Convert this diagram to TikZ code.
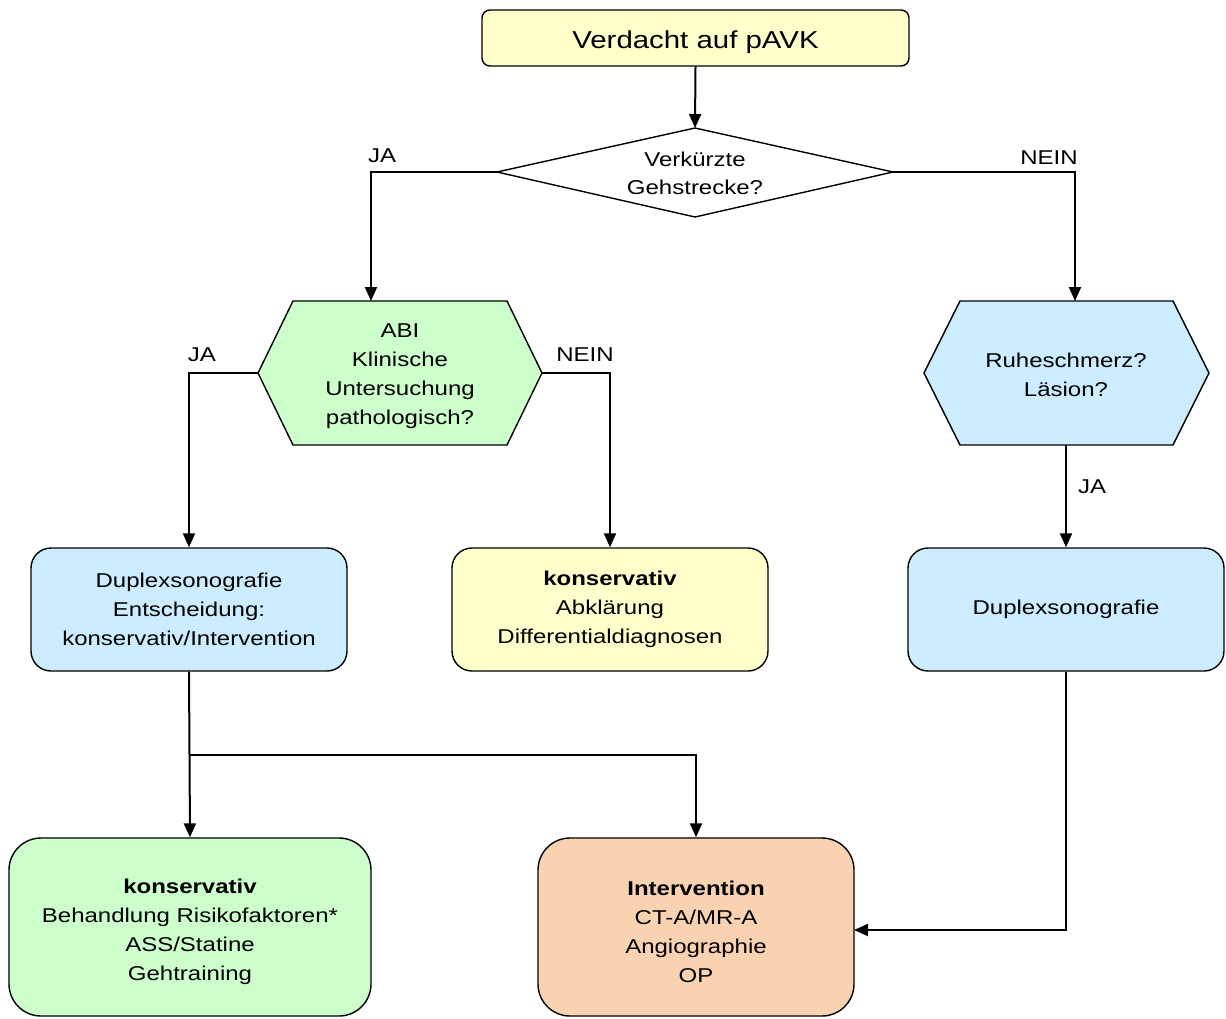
\documentclass[tikz,border=0pt]{standalone}
\usepackage{fontspec}
\setmainfont{Liberation Sans}[FakeStretch=1.2]
\usetikzlibrary{arrows.meta}
\definecolor{cyel}{HTML}{FFFFCC}
\definecolor{cgrn}{HTML}{CCFFCC}
\definecolor{cblu}{HTML}{CCECFF}
\definecolor{corg}{HTML}{F9D3B1}
\begin{document}
\begin{tikzpicture}[x=1pt,y=-1pt,
  txt/.style={font=\fontsize{20}{29}\selectfont, align=center, inner sep=0pt},
  boxbase/.style={draw, line width=1.4pt, inner sep=0pt, align=center, font=\fontsize{20}{29}\selectfont},
  topbox/.style={boxbase, rounded corners=8pt},
  midbox/.style={boxbase, rounded corners=20pt, minimum width=316pt, minimum height=123pt},
  lowbox/.style={boxbase, rounded corners=32pt, minimum height=178pt},
  shapeline/.style={draw, line width=1.4pt, line join=miter},
  arr/.style={line width=2pt, -{Triangle[length=14pt,width=12pt]}},
  lbl/.style={font=\fontsize{20}{24}\selectfont, inner sep=0pt}]
\useasboundingbox (0,0) rectangle (1226,1018);

% top box
\node[topbox, fill=cyel, minimum width=427pt, minimum height=56pt, text height=22pt, text depth=2pt, font=\fontsize{24.5}{30}\selectfont] (start) at (695.5,38) {Verdacht auf pAVK};

% diamond
\coordinate (dT) at (695,128);
\coordinate (dL) at (497,172);
\coordinate (dR) at (893,172);
\coordinate (dB) at (695,217);
\draw[shapeline, fill=white] (dT) -- (dR) -- (dB) -- (dL) -- cycle;
\node[txt, font=\fontsize{20}{28}\selectfont] (dtext) at (695,173) {Verkürzte\\Gehstrecke?};

% green hexagon
\coordinate (h1L) at (258,373);
\coordinate (h1R) at (542,373);
\coordinate (h1T) at (371,301);
\draw[shapeline, fill=cgrn] (h1L) -- (293,301) -- (507,301) -- (h1R) -- (507,445) -- (293,445) -- cycle;
\node[txt] (h1text) at (400,376) {ABI\\Klinische\\Untersuchung\\pathologisch?};

% blue hexagon
\coordinate (h2T) at (1075,301);
\coordinate (h2B) at (1066,445);
\draw[shapeline, fill=cblu] (924,373) -- (960,301) -- (1173,301) -- (1209,373) -- (1173,445) -- (960,445) -- cycle;
\node[txt] (h2text) at (1066,375) {Ruheschmerz?\\Läsion?};

% middle boxes
\node[midbox, fill=cblu] (b1) at (189,609.5) {Duplexsonografie\\Entscheidung:\\konservativ/Intervention};
\node[midbox, fill=cyel] (b2) at (610,609.5) {\textbf{konservativ}\\Abklärung\\Differentialdiagnosen};
\node[midbox, fill=cblu] (b3) at (1066,609.5) {Duplexsonografie};

% bottom boxes
\node[lowbox, fill=cgrn, minimum width=362pt] (b4) at (190,927) {\rule{0pt}{24pt}\textbf{konservativ}\\Behandlung Risikofaktoren*\\ASS/Statine\\Gehtraining};
\node[lowbox, fill=corg, minimum width=316pt] (b5) at (696,927) {\rule{0pt}{24pt}\textbf{Intervention}\\CT-A/MR-A\\Angiographie\\OP};

% connectors
\draw[arr] (start.south) -- (dT);
\draw[arr] (dL) -| (h1T);
\draw[arr] (dR) -| (h2T);
\draw[arr] (h1L) -| (b1.north);
\draw[arr] (h1R) -| (b2.north);
\draw[arr] (h2B) -- (b3.north);
\draw[arr] (b1.south) -- (b4.north);
\coordinate (br) at (189,755);
\draw[arr] (br) -| (b5.north);
\coordinate (b5in) at (854,930);
\draw[arr] (b3.south) |- (b5in);

% labels
\node[lbl] (l1) at (382,156) {JA};
\node[lbl] (l2) at (1049,158) {NEIN};
\node[lbl] (l3) at (202,355) {JA};
\node[lbl] (l4) at (585,355) {NEIN};
\node[lbl] (l5) at (1092,487) {JA};
\end{tikzpicture}
\end{document}
